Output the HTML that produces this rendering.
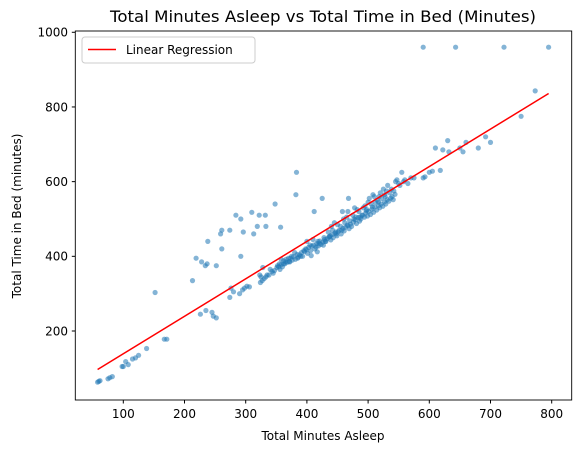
<!DOCTYPE html>
<html><head><meta charset="utf-8"><style>
html,body{margin:0;padding:0;background:#fff;}
svg{display:block;font-family:"DejaVu Sans","Liberation Sans",sans-serif;}
</style></head><body>
<svg id="chart" width="580" height="453" viewBox="0 0 580 453">
<rect x="0" y="0" width="580" height="453" fill="#fff"/>
<text x="323" y="22" text-anchor="middle" font-size="16" fill="#000" textLength="426" lengthAdjust="spacingAndGlyphs">Total Minutes Asleep vs Total Time in Bed (Minutes)</text>
<g id="points"></g>
<g id="line"></g>
<rect x="75.3" y="31" width="496.4" height="369" fill="none" stroke="#000" stroke-width="0.9"/>
<g id="xticks"></g>
<g id="yticks"></g>
<text x="323" y="440" text-anchor="middle" font-size="12">Total Minutes Asleep</text>
<text transform="translate(21,216) rotate(-90)" text-anchor="middle" font-size="12">Total Time in Bed (minutes)</text>
<g>
<rect x="82" y="37" width="173" height="26" rx="3" fill="#fff" fill-opacity="0.8" stroke="#ccc"/>
<line x1="88" y1="49.5" x2="116" y2="49.5" stroke="red" stroke-width="1.5"/>
<text x="126" y="54" font-size="12">Linear Regression</text>
</g>
</svg>
<script>
const xTicks=[100,200,300,400,500,600,700,800];
const yTicks=[200,400,600,800,1000];
const lineX=[58,795];
const lineY=[97,836];
const asleep=[58,60,62,75,78,82,98,100,104,108,115,120,125,138,152,167,171,213,219,226,228,234,235,237,238,245,247,252,252,259,261,261,274,274,276,280,284,290,292,292,295,296,298,302,306,310,313,319,322,323,324,325,328,330,332,333,335,340,345,348,352,355,357,358,362,365,370,372,375,380,382,383,385,390,395,398,400,405,410,412,415,418,420,425,428,430,435,438,440,442,445,448,450,455,458,460,462,465,467,468,470,475,478,480,482,485,490,492,495,498,500,502,505,508,510,512,515,518,520,522,525,528,530,532,535,538,542,545,547,550,552,555,558,560,565,570,575,590,593,600,605,610,618,622,630,632,650,655,660,680,692,700,750,773,590,643,722,795,
356,358,360,362,364,366,368,371,373,376,378,381,384,386,388,391,393,396,399,401,403,406,408,411,413,416,419,421,423,426,429,431,433,436,439,441,443,446,449,451,453,456,459,461,463,466,469,471,473,476,479,481,484,486,488,491,494,496,499,501,504,506,509,511,514,517,519,521,524,527,529,531,534,537,539,541,544,327,333,338,343,347,351,354,407,417,427,437,447,457,467,477,487,497,507,517,527];
const inBed=[63,65,67,72,75,78,105,105,118,110,125,128,135,153,303,178,178,335,395,245,385,375,255,380,440,250,240,235,375,460,470,420,470,290,315,305,510,300,400,500,310,465,315,320,318,518,460,480,510,350,330,345,370,340,510,480,350,365,355,540,375,380,478,392,380,385,395,385,400,410,565,625,395,400,415,420,440,430,445,520,425,440,435,555,450,440,465,455,480,470,490,460,485,480,520,500,490,505,520,555,495,510,530,505,525,520,510,530,535,525,545,555,540,565,560,545,550,560,570,555,580,560,575,590,570,580,575,600,605,595,590,625,600,605,595,610,610,610,613,625,628,690,630,685,710,680,690,680,705,690,720,705,775,843,960,960,960,960,
365,378,372,388,380,392,384,386,395,390,399,392,405,398,404,410,400,413,418,408,424,415,427,430,420,434,428,441,432,438,445,440,447,452,444,458,450,462,455,466,470,460,475,468,478,484,474,486,480,492,498,488,504,494,500,510,505,516,508,520,512,526,518,532,524,536,530,540,534,546,540,552,548,556,560,552,566,335,345,350,360,362,370,372,402,412,430,452,465,470,482,500,505,522,532,545,565];
const xs=v=>123.3+(v-100)*0.612;
const ys=v=>331-(v-200)*0.3734;
const NS='http://www.w3.org/2000/svg';
const pts=document.getElementById('points');
for(let i=0;i<asleep.length;i++){
 const c=document.createElementNS(NS,'circle');
 c.setAttribute('cx',xs(asleep[i]).toFixed(1));
 c.setAttribute('cy',ys(inBed[i]).toFixed(1));
 c.setAttribute('r','2.6');
 c.setAttribute('fill','#1f77b4');
 c.setAttribute('fill-opacity','0.55');
 
 
 pts.appendChild(c);
}
const ln=document.createElementNS(NS,'line');
ln.setAttribute('x1',xs(lineX[0]));ln.setAttribute('y1',ys(lineY[0]));
ln.setAttribute('x2',xs(lineX[1]));ln.setAttribute('y2',ys(lineY[1]));
ln.setAttribute('stroke','red');ln.setAttribute('stroke-width','1.5');


document.getElementById('line').appendChild(ln);
const xg=document.getElementById('xticks');
xTicks.forEach(t=>{
 const x=xs(t);
 const l=document.createElementNS(NS,'line');
 l.setAttribute('x1',x);l.setAttribute('x2',x);l.setAttribute('y1',400);l.setAttribute('y2',403.5);l.setAttribute('stroke','#000');
 
 
 xg.appendChild(l);
 const tx=document.createElementNS(NS,'text');
 tx.setAttribute('x',x);tx.setAttribute('y',418);tx.setAttribute('text-anchor','middle');tx.setAttribute('font-size','12');
 tx.textContent=t;
 
 
 xg.appendChild(tx);
});
const yg=document.getElementById('yticks');
yTicks.forEach(t=>{
 const y=ys(t);
 const l=document.createElementNS(NS,'line');
 l.setAttribute('x1',71.8);l.setAttribute('x2',75.3);l.setAttribute('y1',y);l.setAttribute('y2',y);l.setAttribute('stroke','#000');
 
 
 yg.appendChild(l);
 const tx=document.createElementNS(NS,'text');
 tx.setAttribute('x',68);tx.setAttribute('y',y+4.3);tx.setAttribute('text-anchor','end');tx.setAttribute('font-size','12');
 tx.textContent=t;
 
 
 yg.appendChild(tx);
});
</script>
</body></html>
